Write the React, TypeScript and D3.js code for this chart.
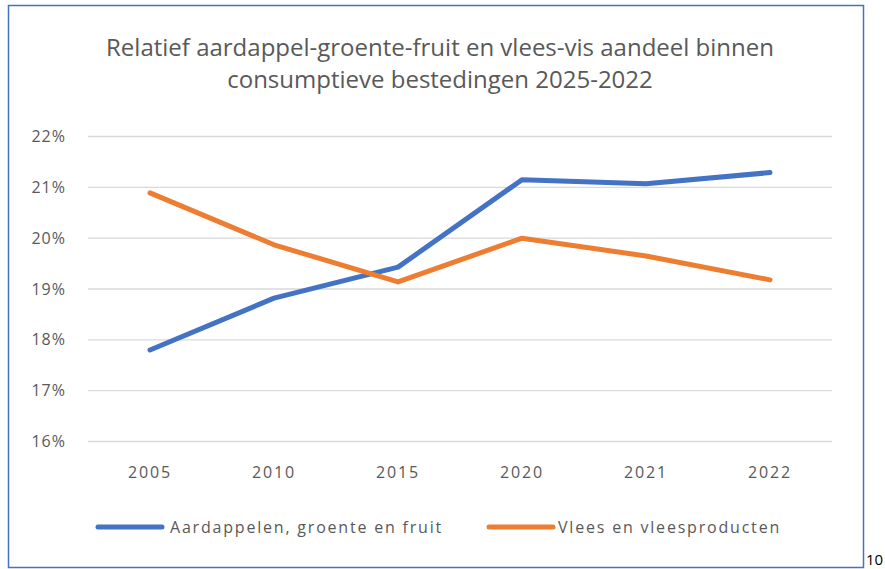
import React from "react";
import * as d3 from "d3";

const categories = ["2005", "2010", "2015", "2020", "2021", "2022"];
const agfValues = [17.8, 18.82, 19.43, 21.15, 21.07, 21.29];
const vleesValues = [20.89, 19.87, 19.14, 20.0, 19.65, 19.18];
const yTicks = [16, 17, 18, 19, 20, 21, 22];
const seriesNames = ["Aardappelen, groente en fruit", "Vlees en vleesproducten"];
const titleLines = [
  "Relatief aardappel-groente-fruit en vlees-vis aandeel binnen",
  "consumptieve bestedingen 2025-2022",
];

const W = 885;
const H = 569;
const left = 88;
const right = 832;
const top = 136.5;
const bottom = 441.5;
const font = "'Open Sans', 'Liberation Sans', sans-serif";
const textColor = "#595959";
const colors = ["#4472C4", "#ED7D31"];

export default function App() {
  const x = d3.scaleBand<string>().domain(categories).range([left, right]);
  const y = d3.scaleLinear().domain([16, 22]).range([bottom, top]);
  const line = d3
    .line<number>()
    .x((_, i) => (x(categories[i]) as number) + x.bandwidth() / 2)
    .y((d) => y(d));
  const series = [agfValues, vleesValues];

  return (
    <svg
      width={W}
      height={H}
      style={{ position: "absolute", left: 0, top: 0, background: "#fff" }}
    >
      <rect x={0} y={0} width={W} height={H} fill="#fff" />
      <rect x={8.5} y={5.5} width={855} height={562} fill="#fff" stroke="#4472C4" strokeWidth={1.5} />
      {titleLines.map((t, i) => (
        <text
          key={i}
          x={440}
          y={56 + i * 32}
          textAnchor="middle"
          fontFamily={font}
          fontSize={24}
          fill={textColor}
        >
          {t}
        </text>
      ))}
      {yTicks.map((t) => (
        <g key={t}>
          <line x1={left} x2={right} y1={y(t)} y2={y(t)} stroke="#d9d9d9" strokeWidth={1.3} />
          <text
            x={66}
            y={y(t)}
            dy="0.35em"
            textAnchor="end"
            fontFamily={font}
            fontSize={16}
            letterSpacing={1}
            fill={textColor}
          >
            {t}%
          </text>
        </g>
      ))}
      {categories.map((c) => (
        <text
          key={c}
          x={(x(c) as number) + x.bandwidth() / 2}
          y={478}
          textAnchor="middle"
          fontFamily={font}
          fontSize={16}
          letterSpacing={1.8}
          fill={textColor}
        >
          {c}
        </text>
      ))}
      {series.map((s, i) => (
        <path
          key={i}
          d={line(s) || ""}
          fill="none"
          stroke={colors[i]}
          strokeWidth={5}
          strokeLinecap="round"
          strokeLinejoin="round"
        />
      ))}
      {[
        { x1: 98, x2: 162, tx: 170 },
        { x1: 489, x2: 553, tx: 558 },
      ].map((l, i) => (
        <g key={i}>
          <line x1={l.x1} x2={l.x2} y1={527} y2={527} stroke={colors[i]} strokeWidth={5} strokeLinecap="round" />
          <text x={l.tx} y={527} dy="0.35em" fontFamily={font} fontSize={16} letterSpacing={1.8} fill={textColor}>
            {seriesNames[i]}
          </text>
        </g>
      ))}
      <text x={866} y={565} fontFamily={font} fontSize={15} fill="#000">
        10
      </text>
    </svg>
  );
}
